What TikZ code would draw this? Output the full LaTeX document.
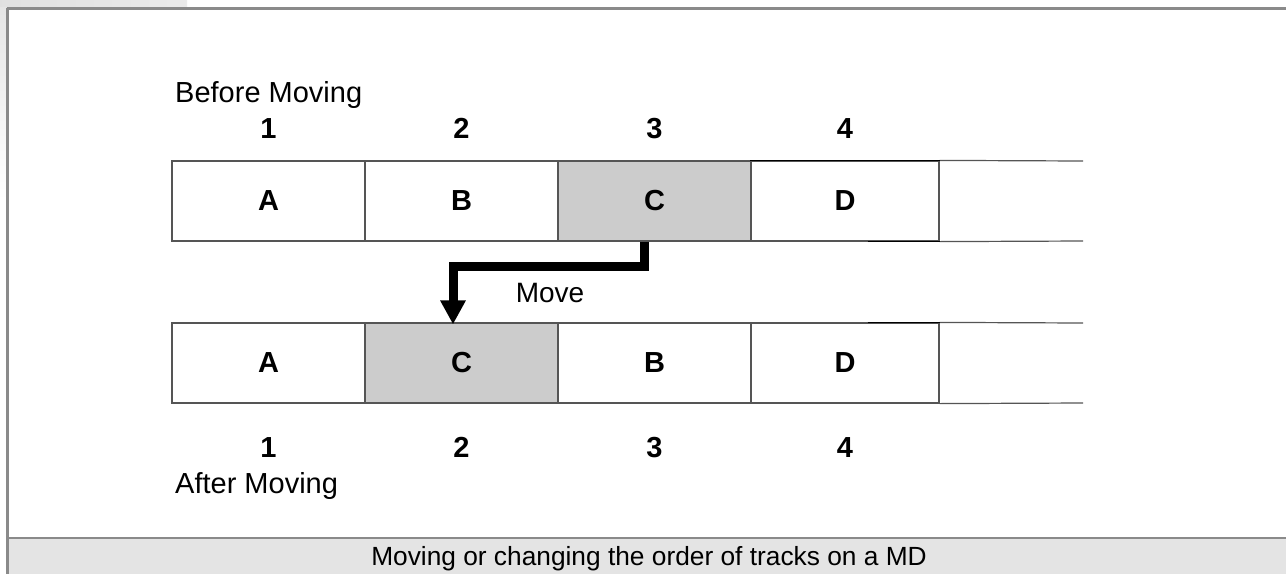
\documentclass[tikz,border=0pt]{standalone}
\usepackage{fontspec}
\setmainfont{Liberation Sans}
\usetikzlibrary{arrows.meta}
\definecolor{cellgray}{HTML}{CCCCCC}
\definecolor{capfill}{HTML}{E4E4E4}
\definecolor{framegray}{HTML}{8A8A8A}
\definecolor{edgegray}{HTML}{555555}
\tikzset{
  cell/.style={draw=edgegray, line width=1.2pt, minimum width=193pt, minimum height=80pt,
    inner sep=0pt, font=\fontsize{29}{34}\selectfont\bfseries},
  hilite/.style={cell, fill=cellgray},
  lastcell/.style={cell, minimum width=188pt},
  num/.style={anchor=base, inner sep=0pt, font=\fontsize{29}{34}\selectfont\bfseries},
  lbl/.style={anchor=base west, inner sep=0pt, font=\fontsize{29}{34}\selectfont},
  movearrow/.style={line width=9pt, line join=miter, -{Triangle[width=24pt,length=24pt]}},
  framelineA/.style={draw=framegray, line width=2.2pt}
}
\begin{document}
\begin{tikzpicture}[x=1pt,y=-1pt]
\useasboundingbox (0,0) rectangle (1286,574);
\fill[white] (0,0) rectangle (1286,574);
% outer blur at top-left
\shade[left color=black!12, right color=black!8] (0,0) rectangle (187,7);
\shade[top color=black!10, bottom color=white] (0,7) rectangle (6,200);
% frame
\fill[capfill] (7,538) rectangle (1286,574);
\draw[framelineA] (7,8.5) -- (1286,8.5);
\draw[framelineA] (7.5,8) -- (7.5,574);
\draw[framelineA] (7,538) -- (1286,538);
\node[inner sep=0pt, anchor=base, font=\fontsize{26.3}{31}\selectfont] (cap) at (649,565) {Moving or changing the order of tracks on a MD};

% before row
\node[lbl] (before) at (175,102) {Before Moving};
\node[cell] (a1) at (268.5,201) {A};
\node[cell] (b1) at (461.5,201) {B};
\node[hilite] (c1) at (654.5,201) {C};
\node[lastcell] (d1) at (845,201) {D};
\coordinate (e1t) at (1083,161);
\coordinate (e1b) at (1083,241);
\draw[edgegray, line width=1.2pt] (d1.north east) -- (e1t);
\draw[edgegray, line width=1.2pt] (d1.south east) -- (e1b);
\draw[black, line width=1.4pt] (d1.north west) -- (d1.north east);
\draw[black, line width=1.4pt] ([xshift=-72pt]d1.south east) -- (d1.south east);
\node[num] (n1t) at (a1.center |- 0,138) {1};
\node[num] (n2t) at (b1.center |- 0,138) {2};
\node[num] (n3t) at (c1.center |- 0,138) {3};
\node[num] (n4t) at (d1.center |- 0,138) {4};

% after row
\node[cell] (a2) at (268.5,363) {A};
\node[hilite] (c2) at (461.5,363) {C};
\node[cell] (b2) at (654.5,363) {B};
\node[lastcell] (d2) at (845,363) {D};
\coordinate (e2t) at (1083,323);
\coordinate (e2b) at (1083,403);
\draw[edgegray, line width=1.2pt] (d2.north east) -- (e2t);
\draw[edgegray, line width=1.2pt] (d2.south east) -- (e2b);
\draw[black, line width=1.4pt] ([xshift=-72pt]d2.north east) -- (d2.north east);
\node[num] (n1b) at (a2.center |- 0,457) {1};
\node[num] (n2b) at (c2.center |- 0,457) {2};
\node[num] (n3b) at (b2.center |- 0,457) {3};
\node[num] (n4b) at (d2.center |- 0,457) {4};
\node[lbl] (after) at (175,493) {After Moving};

% move arrow
\coordinate (mvs) at ([xshift=-10pt]c1.south);
\coordinate (mve) at ([xshift=-8.5pt,yshift=-2pt]c2.north);
\draw[movearrow] (mvs) -- ++(0,25) -| (mve);
\node[inner sep=0pt, anchor=base, font=\fontsize{28}{33}\selectfont] (move) at (550,302) {Move};
\end{tikzpicture}
\end{document}
